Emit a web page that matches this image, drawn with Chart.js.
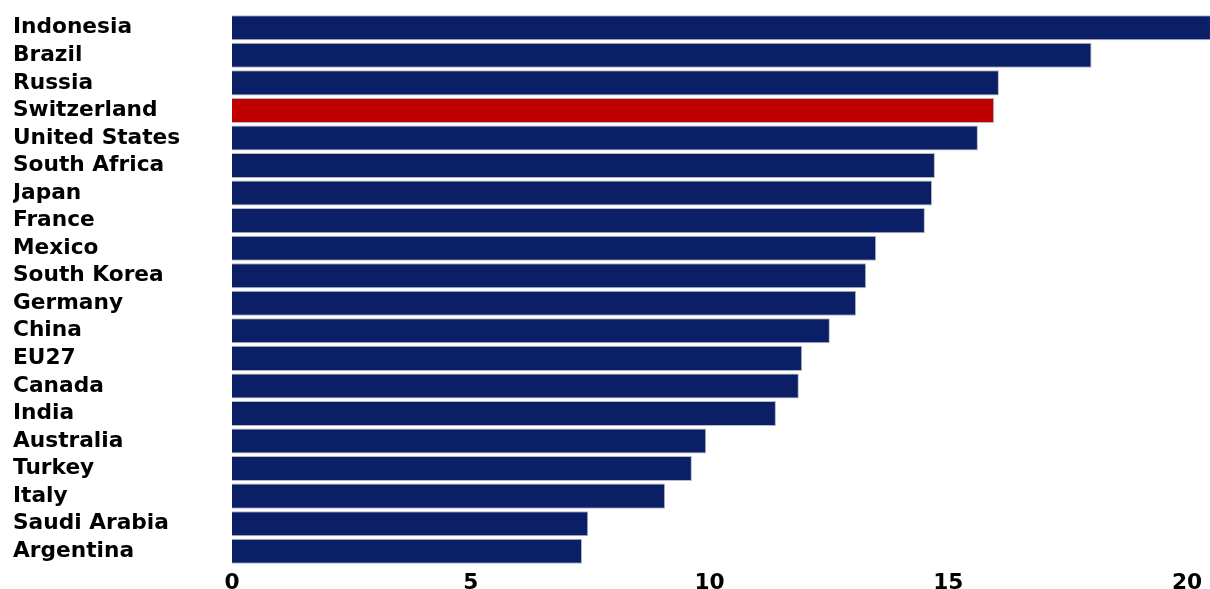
<!DOCTYPE html>
<html>
<head>
<meta charset="utf-8">
<script src="https://cdn.jsdelivr.net/npm/chart.js@4/dist/chart.umd.min.js"></script>
<style>
  html, body { margin: 0; padding: 0; background: #fff; }
  #wrap { width: 1210px; height: 589px; }
</style>
</head>
<body>
<div id="wrap"><canvas id="chart"></canvas></div>
<script>
// chart values
const countries = ['Indonesia', 'Brazil', 'Russia', 'Switzerland', 'United States', 'South Africa',
    'Japan', 'France', 'Mexico', 'South Korea', 'Germany', 'China', 'EU27', 'Canada', 'India',
    'Australia', 'Turkey', 'Italy', 'Saudi Arabia', 'Argentina'];
const values = [20.5, 18.0, 16.06, 15.96, 15.62, 14.72, 14.66, 14.51, 13.49, 13.28, 13.07, 12.52,
    11.94, 11.87, 11.39, 9.93, 9.63, 9.07, 7.46, 7.33];
const xTicks = [0, 5, 10, 15, 20];
const highlight = 'Switzerland';

const navy = '#0b1f66';
const red = '#c00000';
const font = { family: 'DejaVu Sans', size: 21.7, weight: 'bold' };

const ctx = document.getElementById('chart').getContext('2d');
new Chart(ctx, {
    type: 'bar',
    data: {
        labels: countries,
        datasets: [{
            data: values,
            backgroundColor: countries.map(c => c === highlight ? red : navy),
            borderColor: 'rgba(120,125,150,0.55)',
            borderWidth: 1,
            categoryPercentage: 1,
            barPercentage: 0.91
        }]
    },
    options: {
        indexAxis: 'y',
        responsive: true,
        maintainAspectRatio: false,
        animation: false,
        layout: { padding: { left: 13, top: 14, right: 0, bottom: 0 } },
        plugins: { legend: { display: false }, tooltip: { enabled: false } },
        scales: {
            x: {
                min: 0,
                max: 20.48,
                grid: { display: false, drawTicks: false, tickLength: 0 },
                border: { display: false },
                ticks: { color: '#000', font: font, padding: 5, maxRotation: 0 },
                afterBuildTicks: axis => { axis.ticks = xTicks.map(v => ({ value: v })); },
                afterFit: axis => { axis.height = 24; }
            },
            y: {
                grid: { display: false, drawTicks: false, tickLength: 0 },
                border: { display: false },
                ticks: { color: '#000', font: font, crossAlign: 'far', padding: 0, autoSkip: false },
                afterFit: axis => { axis.width = 219; }
            }
        }
    }
});
</script>
</body>
</html>
